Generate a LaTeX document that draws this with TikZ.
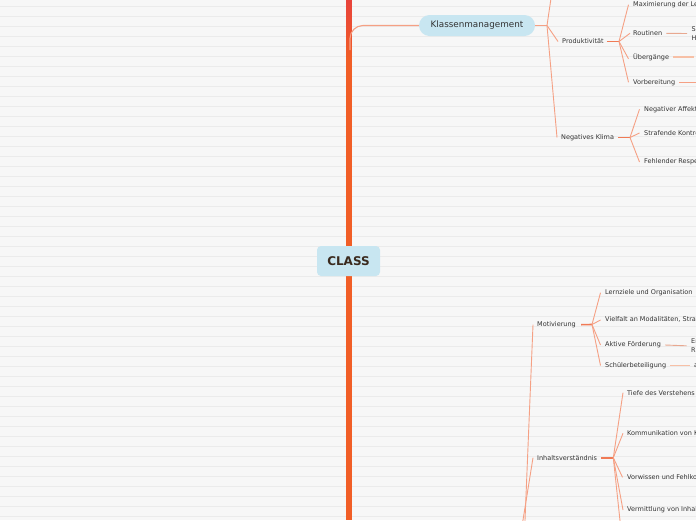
\documentclass[tikz,border=0pt]{standalone}
\usepackage{fontspec}
\setmainfont{DejaVu Sans}
\definecolor{bg}{HTML}{F7F7F7}
\definecolor{rulec}{HTML}{EBEBEB}
\definecolor{trunk}{HTML}{F15E26}
\definecolor{trunktop}{HTML}{E8433B}
\definecolor{branch}{HTML}{F5A084}
\definecolor{stub}{HTML}{F07A55}
\definecolor{pale}{HTML}{F7C0A6}
\definecolor{grayline}{HTML}{E8A890}
\definecolor{nodefill}{HTML}{C8E6F1}
\definecolor{txt}{HTML}{333333}
\definecolor{roottxt}{HTML}{3A2A1E}
\begin{document}
\begin{tikzpicture}[x=1pt,y=-1pt,
  leaf/.style={anchor=west, inner sep=0pt, font=\fontsize{6.5}{8.4}\selectfont, text=txt},
  twoline/.style={leaf, align=left},
  conn/.style={draw=branch, line width=0.9pt},
  stubline/.style={draw=stub, line width=1.6pt},
  paleline/.style={draw=pale, line width=1.8pt},
  softline/.style={draw=grayline, line width=0.9pt},
  rootbox/.style={fill=nodefill, rounded corners=4pt, minimum width=63pt, minimum height=30pt,
     inner sep=0pt, font=\bfseries\fontsize{12}{14}\selectfont, text=roottxt},
  mainbox/.style={fill=nodefill, rounded corners=10.5pt, minimum width=116pt, minimum height=21pt,
     inner sep=0pt, font=\fontsize{8.8}{10}\selectfont, text=txt}
]
\useasboundingbox (0,0) rectangle (696,520);
\clip (0,0) rectangle (696,520);
\fill[bg] (0,0) rectangle (696,520);
\foreach \k in {0,...,51} \draw[rulec, line width=0.8pt] (0,{6.3+10*\k}) -- (696,{6.3+10*\k});

% trunk
\coordinate (ttop) at (349,0);
\coordinate (tmid) at (349,60);
\coordinate (tbot) at (349,520);
\shade[top color=trunktop, bottom color=trunk] (346.2,0) rectangle (351.8,60);
\fill[trunk] (346.2,60) rectangle (351.8,520);

% root
\node[rootbox] (root) at (348.5,261) {CLASS};

% Klassenmanagement
\node[mainbox] (km) at (477,25.5) {Klassenmanagement};
\coordinate (kmstart) at (350,50);
\coordinate (kmbend) at (350,25.5);
\draw[conn, line width=1.1pt, rounded corners=13pt] (kmstart) -- (kmbend) -- (km.west);

\coordinate (kmfan) at (547,25.5);
\coordinate (kmup) at (551.5,-5);
\draw[conn] (km.east) -- (kmfan);
\draw[conn] (kmfan) -- (kmup);

% Produktivitaet
\node[leaf] (prod) at (562,41.5) {Produktivität};
\node[leaf] (max) at (633,4.7) {Maximierung der Lernzeit};
\node[leaf] (rout) at (633,33.3) {Routinen};
\node[leaf] (ueb) at (633,57.3) {Übergänge};
\node[leaf] (vorb) at (633,82.3) {Vorbereitung};
\node[twoline] (routc) at (691.5,33.5) {S\\H};
\coordinate (uebc) at (694,57.3);
\coordinate (vorbc) at (697,82.3);
\draw[conn] (kmfan) -- ([xshift=-4pt]prod.west);
\coordinate (pfan) at (619,41.5);
\draw[stubline] ([xshift=3pt]prod.east) -- (pfan);
\draw[conn] (pfan) -- ([xshift=-4.5pt]max.west);
\draw[conn] (pfan) -- ([xshift=-3pt]rout.west);
\draw[conn] (pfan) -- ([xshift=-4.5pt,yshift=-1.5pt]ueb.west);
\draw[conn] (pfan) -- ([xshift=-4.5pt]vorb.west);
\draw[softline] ([xshift=4pt]rout.east) -- ([xshift=-4.5pt]routc.west);
\draw[paleline] ([xshift=4pt]ueb.east) -- (uebc);
\draw[conn] ([xshift=4pt]vorb.east) -- (vorbc);

% Negatives Klima
\node[leaf] (nk) at (561,137.5) {Negatives Klima};
\node[leaf] (naff) at (644,109.3) {Negativer Affekt};
\node[leaf] (skon) at (644,133) {Strafende Kontrolle};
\node[leaf] (fres) at (644,162) {Fehlender Respekt};
\draw[conn] (kmfan) -- ([xshift=-4pt]nk.west);
\coordinate (nfan) at (630,137.5);
\draw[stubline] ([xshift=4pt]nk.east) -- (nfan);
\draw[conn] (nfan) -- ([xshift=-4.5pt]naff.west);
\draw[conn] (nfan) -- ([xshift=-4.5pt]skon.west);
\draw[conn] (nfan) -- ([xshift=-4.5pt]fres.west);

% lower branch
\coordinate (mlow) at (524.6,530);
\coordinate (ilow) at (521.4,530);

% Motivierung
\node[leaf] (mot) at (537,324.7) {Motivierung};
\node[leaf] (lern) at (605,292.7) {Lernziele und Organisation};
\node[leaf] (viel) at (605,320) {Vielfalt an Modalitäten, Strategien};
\node[leaf] (akt) at (605,345) {Aktive Förderung};
\node[leaf] (schb) at (605,365.5) {Schülerbeteiligung};
\node[twoline] (aktc) at (691,345.8) {Er\\Ri};
\node[leaf] (schbc) at (694,365.5) {a};
\draw[conn] (mlow) -- ([xshift=-4pt]mot.west);
\coordinate (mfan) at (592,324.5);
\draw[stubline] ([xshift=5pt]mot.east) -- (mfan);
\draw[conn] (mfan) -- ([xshift=-4.5pt]lern.west);
\draw[conn] (mfan) -- ([xshift=-4.5pt]viel.west);
\draw[conn] (mfan) -- ([xshift=-4.5pt]akt.west);
\draw[conn] (mfan) -- ([xshift=-4.5pt]schb.west);
\draw[softline] ([xshift=4pt]akt.east) -- ([xshift=-4.5pt]aktc.west);
\draw[paleline] ([xshift=4pt]schb.east) -- ([xshift=-4pt]schbc.west);

% Inhaltsverstaendnis
\node[leaf] (inh) at (537,457.7) {Inhaltsverständnis};
\node[leaf] (tief) at (627,392.7) {Tiefe des Verstehens};
\node[leaf] (komm) at (627,433.3) {Kommunikation von Konzepten};
\node[leaf] (vorw) at (627,477.3) {Vorwissen und Fehlkonzepte};
\node[leaf] (verm) at (627,510) {Vermittlung von Inhaltswissen};
\coordinate (inhmore) at (621,530);
\draw[conn] (ilow) -- ([xshift=-4pt]inh.west);
\coordinate (ifan) at (613.3,457.7);
\draw[stubline] ([xshift=3.5pt]inh.east) -- (ifan);
\draw[conn] (ifan) -- ([xshift=-4pt]tief.west);
\draw[conn] (ifan) -- ([xshift=-4pt]komm.west);
\draw[conn] (ifan) -- ([xshift=-4.5pt]vorw.west);
\draw[conn] (ifan) -- ([xshift=-4pt]verm.west);
\draw[conn] (ifan) -- (inhmore);
\end{tikzpicture}
\end{document}
